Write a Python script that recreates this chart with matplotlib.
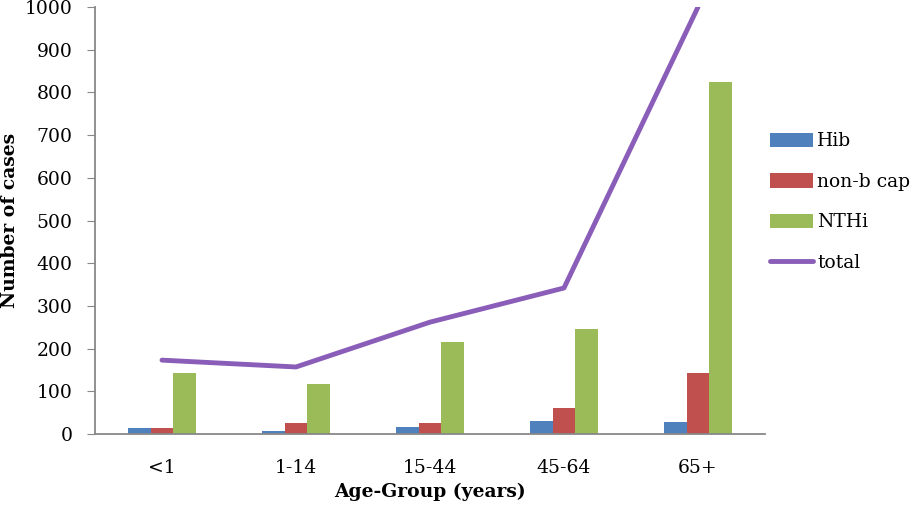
import numpy as np
import matplotlib
matplotlib.use("Agg")
import matplotlib.pyplot as plt

age_groups = ["<1", "1-14", "15-44", "45-64", "65+"]
hib = [15, 6, 17, 30, 28]
non_b_cap = [15, 25, 25, 62, 142]
nthi = [142, 118, 216, 245, 824]
total = [173, 157, 262, 342, 1000]

plt.rcParams['font.family'] = 'DejaVu Serif'

fig = plt.figure(figsize=(9.17, 5.07), dpi=100)
ax = fig.add_axes([0.1036, 0.144, 0.7306, 0.842])

x = np.arange(len(age_groups))
w = 0.168
b1 = ax.bar(x - w, hib, w, color='#4F81BD', label='Hib')
b2 = ax.bar(x, non_b_cap, w, color='#C0504D', label='non-b cap')
b3 = ax.bar(x + w, nthi, w, color='#9BBB59', label='NTHi')
ln, = ax.plot(x, total, color='#8A5DB8', lw=3.5, label='total', solid_capstyle='round')

ax.set_xlim(-0.5, len(age_groups) - 0.5)
ax.set_ylim(0, 1000)
ax.set_yticks(range(0, 1001, 100))
ax.set_xticks(x)
ax.set_xticklabels(age_groups)
ax.tick_params(axis='y', labelsize=13.5, length=6, color='#888888', pad=10)
ax.tick_params(axis='x', labelsize=13.5, length=0, pad=18)

for s in ['top', 'right']:
    ax.spines[s].set_visible(False)
for s in ['left', 'bottom']:
    ax.spines[s].set_color('#888888')
    ax.spines[s].set_linewidth(1.3)

ax.set_ylabel('Number of cases', fontsize=13.5, fontweight='bold', labelpad=4)
ax.set_xlabel('Age-Group (years)', fontsize=13.5, fontweight='bold', labelpad=4)

ax.legend([b1, b2, b3, ln], ['Hib', 'non-b cap', 'NTHi', 'total'],
          loc='center left', bbox_to_anchor=(1.008, 0.543), frameon=False,
          borderaxespad=0, borderpad=0,
          fontsize=13.5, handlelength=2.25, handleheight=0.8, labelspacing=1.2,
          handletextpad=0.25)

fig.savefig('out.png', dpi=100)
